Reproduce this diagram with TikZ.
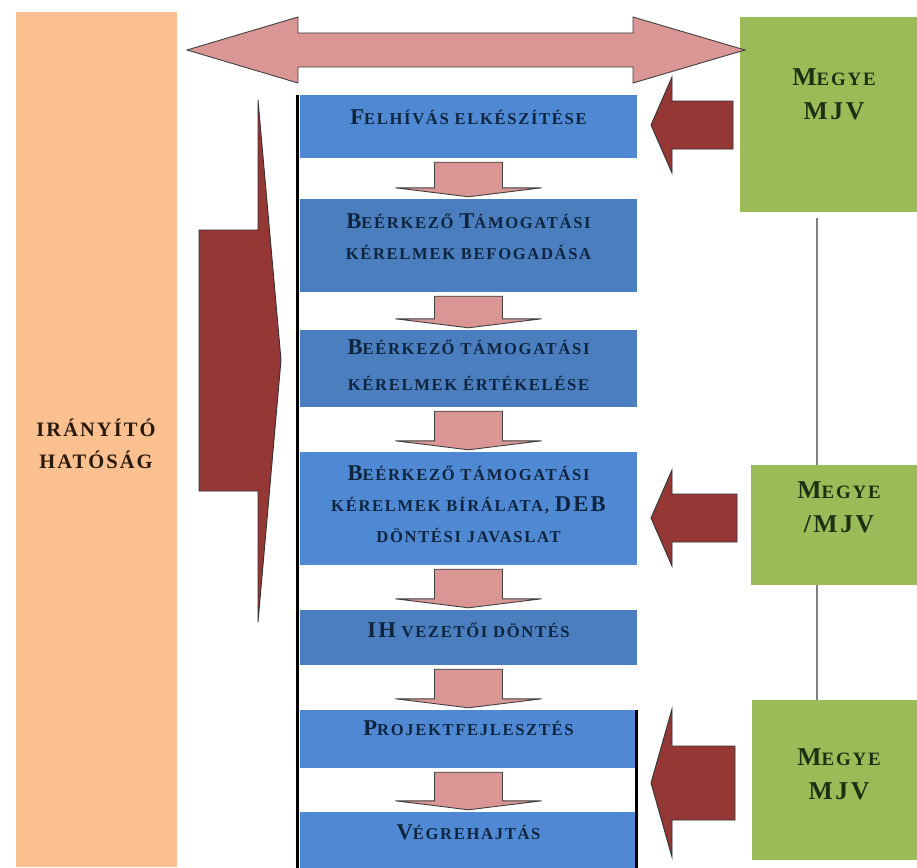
\documentclass[tikz,border=0pt]{standalone}
\usepackage{fontspec}
\newfontfamily\diafont[LetterSpace=10]{Liberation Serif}
\usetikzlibrary{positioning}
\usetikzlibrary{calc}

\definecolor{ihorange}{HTML}{FAC090}
\definecolor{flowpink}{HTML}{D99694}
\definecolor{darkred}{HTML}{953735}
\definecolor{megyegreen}{HTML}{9BBB59}
\definecolor{boxblue}{HTML}{5089D3}
\definecolor{boxdark}{HTML}{4A7EBF}
\definecolor{navy}{HTML}{0F243E}
\definecolor{greentext}{HTML}{1F3012}
\definecolor{browntext}{HTML}{2A1A0E}

% capitals of the fake small caps
\newcommand\bc[1]{{\fontsize{\capsz}{\capsz}\selectfont #1}}

% pink arrow from one step down to the next
\newcommand\flowdown[2]{%
  \draw[pinkarrow] let \p1=(#1.south), \p2=(#2.north) in
    (\x1-34pt,\y1-4pt) -- (\x1+34pt,\y1-4pt) -- (\x1+34pt,\y2+11pt) -- (\x1+73pt,\y2+11pt)
    -- (\x1,\y2+2pt) -- (\x1-73pt,\y2+11pt) -- (\x1-34pt,\y2+11pt) -- cycle;}

\tikzset{
  stepbox/.style={rectangle, fill=boxblue, minimum width=337pt, inner sep=0pt},
  steptext/.style={font={\def\capsz{22.6}\diafont\bfseries\fontsize{16.6}{31}\selectfont},
    text=navy, align=center, inner sep=0pt},
  megyebox/.style={rectangle, fill=megyegreen, inner sep=0pt},
  megyetext/.style={font={\def\capsz{25.7}\diafont\bfseries\fontsize{18.9}{34}\selectfont},
    text=greentext, align=center, inner sep=0pt},
  pinkarrow/.style={fill=flowpink, draw=black!75, line width=0.9pt, line join=miter},
  redarrow/.style={fill=darkred, draw=black!80, line width=0.9pt, line join=miter},
  blackbar/.style={line width=3pt, black},
  vline/.style={line width=1.6pt, black!50}
}

\begin{document}
\begin{tikzpicture}[x=1pt,y=-1pt]

\useasboundingbox (0,0) rectangle (917,867);

% Iranyito hatosag
\node[fill=ihorange, minimum width=161pt, minimum height=855pt, inner sep=0pt] (ih) at (96.5,439.5) {};
\node[font={\diafont\bfseries\fontsize{20.5}{32}\selectfont}, text=browntext, align=center, inner sep=0pt]
  (iht) at (96,444) {IRÁNYÍTÓ\\HATÓSÁG};

% steps
\node[stepbox, minimum height=63pt] (s1) at (468.5,126.5) {};
\node[stepbox, fill=boxdark, minimum height=93pt] (s2) at (468.5,245.5) {};
\node[stepbox, fill=boxdark, minimum height=77pt] (s3) at (468.5,368.5) {};
\node[stepbox, minimum height=113pt] (s4) at (468.5,508.5) {};
\node[stepbox, fill=boxdark, minimum height=55pt] (s5) at (468.5,637.5) {};
\node[stepbox, minimum height=58pt] (s6) at (468.5,739) {};
\node[stepbox, minimum height=56pt] (s7) at (468.5,840) {};

\node[steptext] (t1) at (468.5,117) {\bc{F}ELHÍVÁS ELKÉSZÍTÉSE};
\node[steptext] (t2) at (468.5,237) {\bc{B}EÉRKEZŐ \bc{T}ÁMOGATÁSI\\KÉRELMEK BEFOGADÁSA};
\node[steptext] (t3) at (468.5,365) {\bc{B}EÉRKEZŐ TÁMOGATÁSI\\[5pt]KÉRELMEK ÉRTÉKELÉSE};
\node[steptext] (t4) at (468.5,504) {\bc{B}EÉRKEZŐ TÁMOGATÁSI\\KÉRELMEK BÍRÁLATA, \bc{DEB}\\DÖNTÉSI JAVASLAT};
\node[steptext] (t5) at (468.5,630) {\bc{IH} VEZETŐI DÖNTÉS};
\node[steptext] (t6) at (468.5,728) {\bc{P}ROJEKTFEJLESZTÉS};
\node[steptext] (t7) at (468.5,832) {\bc{V}ÉGREHAJTÁS};

\foreach \a/\b in {s1/s2,s2/s3,s3/s4,s4/s5,s5/s6,s6/s7}
  \flowdown{\a}{\b};

\draw[blackbar] ([xshift=-2pt]s1.north west) -- ([xshift=-2pt]s7.south west);
\draw[blackbar] ([xshift=-1pt]s6.north east) -- ([xshift=-1pt]s7.south east);

% megye / mjv
\node[megyebox, minimum width=177pt, minimum height=195pt] (m1) at (828.5,114.5) {};
\node[megyebox, minimum width=166pt, minimum height=120pt] (m2) at (834,525) {};
\node[megyebox, minimum width=165pt, minimum height=160pt] (m3) at (834.5,780) {};

\node[megyetext] (g1) at (834,94.5) {\bc{M}EGYE\\\bc{MJV}};
\node[megyetext] (g2) at (839,507.5) {\bc{M}EGYE\\\bc{/MJV}};
\node[megyetext] (g3) at (839,774.5) {\bc{M}EGYE\\\bc{MJV}};

\coordinate (v1) at (817,218);
\draw[vline] (v1) -- (817,0 |- m2.north);
\draw[vline] (817,0 |- m2.south) -- (817,0 |- m3.north);

% big arrows
\draw[pinkarrow] (187,50) -- (298,17) -- (298,33) -- (633,33) -- (633,17) -- (745,50)
  -- (633,83) -- (633,67) -- (298,67) -- (298,83) -- cycle;

\draw[redarrow] (199,230) -- (258,230) -- (258,100) -- (281,360) -- (258,622) -- (258,491) -- (199,491) -- cycle;

\foreach \ty/\hh/\sh/\rx in {125/48/24/733, 518/48/24/737, 783/74/37/735}
  \draw[redarrow] (651,\ty) -- (672,\ty-\hh) -- (672,\ty-\sh) -- (\rx,\ty-\sh)
    -- (\rx,\ty+\sh) -- (672,\ty+\sh) -- (672,\ty+\hh) -- cycle;

\end{tikzpicture}
\end{document}
